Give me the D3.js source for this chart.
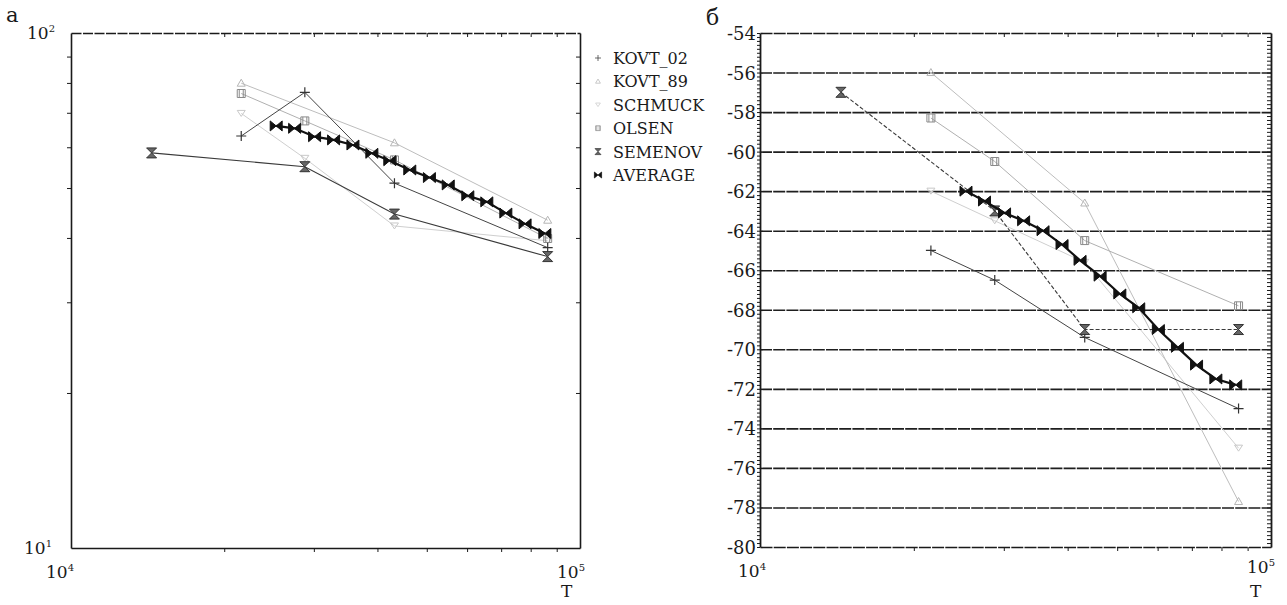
<!DOCTYPE html>
<html>
<head>
<meta charset="utf-8">
<script src="https://cdn.jsdelivr.net/npm/d3@7"></script>
<style>
body { margin: 0; background: #fff; }
text { font-family: "DejaVu Serif", "Liberation Serif", serif; fill: #1a1a1a; }
</style>
</head>
<body>
<svg id="chart" width="1287" height="605"></svg>
<script>
// periods T (s) and values
var seriesNames = ['KOVT_02', 'KOVT_89', 'SCHMUCK', 'OLSEN', 'SEMENOV', 'AVERAGE'];

var kovt02T = [21600, 28800, 43200, 86400];
var kovt02Amp = [63.1, 76.7, 51.1, 38.3];
var kovt02Phase = [-65.0, -66.5, -69.4, -73.0];

var kovt89T = [21600, 43200, 86400];
var kovt89Amp = [79.9, 61.2, 43.3];
var kovt89Phase = [-56.0, -62.6, -77.7];

var schmuckT = [21600, 28800, 43200, 86400];
var schmuckAmp = [69.8, 57.1, 42.2, 39.5];
var schmuckPhase = [-62.0, -63.5, -65.6, -75.0];

var olsenT = [21600, 28800, 43200, 86400];
var olsenAmp = [76.3, 67.5, 56.7, 39.9];
var olsenPhase = [-58.3, -60.5, -64.5, -67.8];

var semenovT = [14400, 28800, 43200, 86400];
var semenovAmp = [58.5, 55.0, 44.5, 36.8];
var semenovPhase = [-57.0, -63.0, -69.0, -69.0];

var averageT = [25300, 27500, 30100, 32800, 35800, 39000, 42300, 46300, 50600, 55100, 60200, 65600, 71500, 78000, 85300];
var averageAmp = [66.0, 65.3, 62.9, 62.0, 60.6, 58.4, 56.5, 54.2, 52.4, 50.7, 48.3, 47.0, 44.7, 42.6, 40.8];
var averagePhase = [-62.0, -62.5, -63.1, -63.5, -64.0, -64.7, -65.5, -66.3, -67.2, -67.9, -69.0, -69.9, -70.8, -71.5, -71.8];

var xMinorTicks = [2e4, 3e4, 4e4, 5e4, 6e4, 7e4, 8e4, 9e4];
var ampMinorTicks = [20, 30, 40, 50, 60, 70, 80, 90];
var phaseTicks = [-80, -78, -76, -74, -72, -70, -68, -66, -64, -62, -60, -58, -56, -54];

var svg = d3.select('#chart');

var xa = d3.scaleLog().domain([1e4, 1e5]).range([71, 580]);
var ya = d3.scaleLog().domain([10, 100]).range([548, 33]);
var xb = d3.scaleLog().domain([1e4, 1e5]).range([760, 1271]);
var yb = d3.scaleLinear().domain([-80, -54]).range([547, 33]);

// marker shapes
var shapes = {
    KOVT_02: 'M-5,0L5,0M0,-5L0,5',
    KOVT_89: 'M-4,3L0,-4L4,3Z',
    SCHMUCK: 'M-4,-3L4,-3L0,3Z',
    OLSEN: 'M-4,-4L4,-4L4,4L-4,4ZM-2,-4L-2,4M2,-4L2,4',
    SEMENOV: 'M-5,-5L5,-5L0,0ZM-5,5L5,5L0,0Z',
    AVERAGE: 'M-6,-5L0,0L-6,5ZM6,-5L0,0L6,5Z'
};
var styles = {
    KOVT_02: {stroke: '#444', width: 1, fill: 'none', ms: '#333', mw: 1.2},
    KOVT_89: {stroke: '#bdbdbd', width: 1, fill: 'none', ms: '#b5b5b5', mw: 1},
    SCHMUCK: {stroke: '#cfcfcf', width: 1, fill: 'none', ms: '#c8c8c8', mw: 1},
    OLSEN: {stroke: '#b0b0b0', width: 1, fill: 'none', ms: '#8a8a8a', mw: 1},
    SEMENOV: {stroke: '#3a3a3a', width: 1.1, fill: '#666', ms: '#333', mw: 1},
    AVERAGE: {stroke: '#111', width: 2.2, fill: '#111', ms: '#111', mw: 1}
};

var panelA = [
    {name: 'SCHMUCK', t: schmuckT, v: schmuckAmp},
    {name: 'KOVT_89', t: kovt89T, v: kovt89Amp},
    {name: 'OLSEN', t: olsenT, v: olsenAmp},
    {name: 'KOVT_02', t: kovt02T, v: kovt02Amp},
    {name: 'SEMENOV', t: semenovT, v: semenovAmp},
    {name: 'AVERAGE', t: averageT, v: averageAmp}
];
var panelB = [
    {name: 'SCHMUCK', t: schmuckT, v: schmuckPhase},
    {name: 'KOVT_89', t: kovt89T, v: kovt89Phase},
    {name: 'OLSEN', t: olsenT, v: olsenPhase},
    {name: 'KOVT_02', t: kovt02T, v: kovt02Phase},
    {name: 'SEMENOV', t: semenovT, v: semenovPhase, dash: '4,2'},
    {name: 'AVERAGE', t: averageT, v: averagePhase}
];

function styleAxis(g, w) {
    g.selectAll('path.domain').attr('stroke', '#1a1a1a').attr('stroke-width', w);
    g.selectAll('.tick line').attr('stroke', '#1a1a1a').attr('stroke-width', 1);
    g.selectAll('.tick text').remove();
}

function powLabel(x, y, exp) {
    var t = svg.append('text')
        .attr('x', x)
        .attr('y', y)
        .attr('font-size', 17);
    t.append('tspan').text('10');
    t.append('tspan').attr('dy', -7).attr('font-size', 10).text(exp);
}

function drawSeries(g, data, x, y) {
    var line = d3.line()
        .x(function(d) { return x(d[0]); })
        .y(function(d) { return y(d[1]); });
    data.forEach(function(s) {
        var st = styles[s.name];
        var pts = s.t.map(function(t, i) { return [t, s.v[i]]; });
        g.append('path')
            .attr('d', line(pts))
            .attr('fill', 'none')
            .attr('stroke', st.stroke)
            .attr('stroke-width', st.width)
            .attr('stroke-dasharray', s.dash || null);
        g.selectAll(null)
            .data(pts)
            .enter()
            .append('path')
            .attr('d', shapes[s.name])
            .attr('transform', function(d) { return 'translate(' + x(d[0]) + ',' + y(d[1]) + ')'; })
            .attr('fill', st.fill)
            .attr('stroke', st.ms)
            .attr('stroke-width', st.mw);
    });
}

// ---- panel а ----
var gA = svg.append('g');

gA.append('g').attr('transform', 'translate(0,548)')
    .call(d3.axisBottom(xa).tickValues(xMinorTicks).tickSize(4).tickSizeOuter(0))
    .call(styleAxis, 1.6);
gA.append('g').attr('transform', 'translate(0,33)')
    .call(d3.axisBottom(xa).tickValues(xMinorTicks).tickSize(4).tickSizeOuter(0))
    .call(styleAxis, 1.5)
    .select('path.domain').attr('stroke-dasharray', '10,1.5');
gA.append('g').attr('transform', 'translate(71,0)')
    .call(d3.axisLeft(ya).tickValues(ampMinorTicks).tickSize(4).tickSizeOuter(0))
    .call(styleAxis, 1.6);
gA.append('g').attr('transform', 'translate(580,0)')
    .call(d3.axisLeft(ya).tickValues(ampMinorTicks).tickSize(4).tickSizeOuter(0))
    .call(styleAxis, 1.6);

powLabel(27, 39, '2');
powLabel(24, 554, '1');
powLabel(46, 578, '4');
powLabel(557, 578, '5');
svg.append('text').attr('x', 561).attr('y', 597).attr('font-size', 17).text('T');
svg.append('text').attr('x', 6).attr('y', 22).attr('font-size', 21).text('а');

drawSeries(gA, panelA, xa, ya);

// legend
var legend = svg.append('g').attr('transform', 'translate(598,58)');
seriesNames.forEach(function(name, i) {
    var st = styles[name];
    var row = legend.append('g').attr('transform', 'translate(0,' + (i * 23.4) + ')');
    row.append('path')
        .attr('d', shapes[name])
        .attr('transform', 'scale(0.6)')
        .attr('fill', st.fill)
        .attr('stroke', st.ms)
        .attr('stroke-width', 1.2);
    row.append('text')
        .attr('x', 15)
        .attr('y', 6)
        .attr('font-size', 16)
        .text(name);
});

// ---- panel б ----
var gB = svg.append('g');

gB.append('g').attr('transform', 'translate(760,0)')
    .call(d3.axisLeft(yb).tickValues(phaseTicks.slice(1, -1)).tickSize(-(1271 - 760)).tickSizeOuter(0))
    .call(function(g) {
        g.select('path.domain').remove();
        g.selectAll('.tick line').attr('stroke', '#1e1e1e').attr('stroke-width', 1.6).attr('stroke-dasharray', '12,1.2');
        g.selectAll('.tick text').remove();
    });

var fineTicks = d3.range(-80, -53.9, 0.2);
gB.append('g').attr('transform', 'translate(760,0)')
    .call(d3.axisLeft(yb).tickValues(fineTicks).tickSize(3).tickSizeOuter(0))
    .call(styleAxis, 1.8);
gB.append('g').attr('transform', 'translate(1271,0)')
    .call(d3.axisLeft(yb).tickValues(fineTicks).tickSize(4).tickSizeOuter(0))
    .call(styleAxis, 1.8);
gB.append('g').attr('transform', 'translate(0,547)')
    .call(d3.axisBottom(xb).tickValues(xMinorTicks).tickSize(4).tickSizeOuter(0))
    .call(styleAxis, 1.6)
    .select('path.domain').attr('stroke-dasharray', '12,1.2');
gB.append('g').attr('transform', 'translate(0,33)')
    .call(d3.axisBottom(xb).tickValues(xMinorTicks).tickSize(4).tickSizeOuter(0))
    .call(styleAxis, 1.6)
    .select('path.domain').attr('stroke-dasharray', '12,1.2');

gB.selectAll('text.ylab')
    .data(phaseTicks)
    .enter()
    .append('text')
    .attr('class', 'ylab')
    .attr('x', 756)
    .attr('y', function(d) { return yb(d) + 7; })
    .attr('text-anchor', 'end')
    .attr('font-size', 18)
    .text(function(d) { return d; });

powLabel(738, 577, '4');
powLabel(1247, 573, '5');
svg.append('text').attr('x', 1250).attr('y', 597).attr('font-size', 17).text('T');
svg.append('text').attr('x', 706).attr('y', 25).attr('font-size', 22).text('б');

drawSeries(gB, panelB, xb, yb);
</script>
</body>
</html>
